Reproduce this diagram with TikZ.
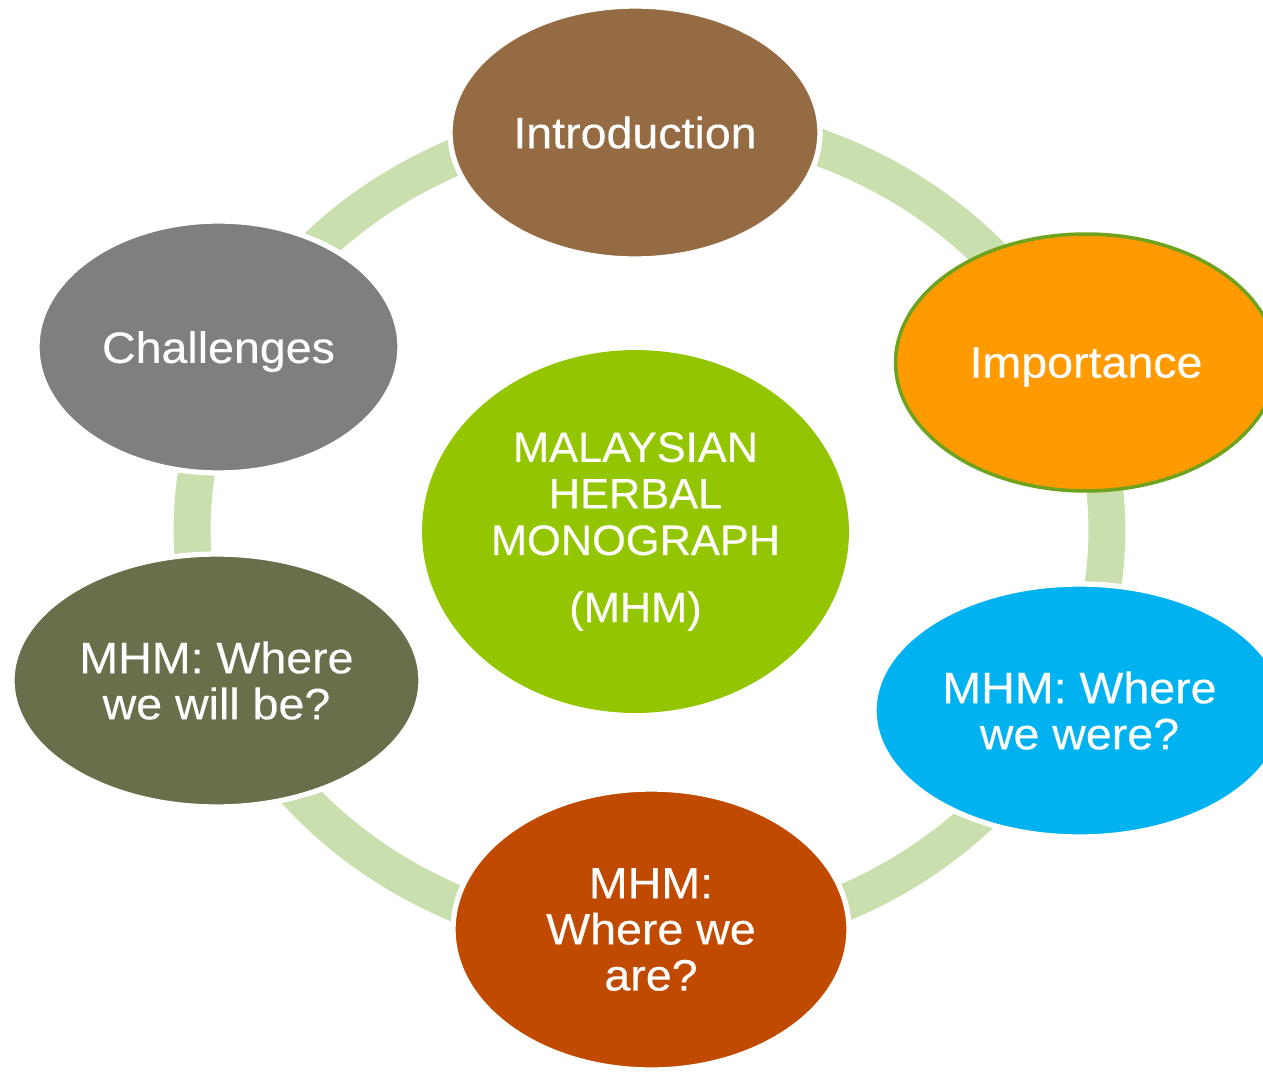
\documentclass[tikz,border=0pt]{standalone}
\usepackage{fontspec}
\setmainfont{Liberation Sans}
\newfontfamily\outerfont[FakeStretch=1.06,FakeBold=0.3]{Liberation Sans}
\newfontfamily\centerfont[FakeStretch=1.02,FakeBold=0.3]{Liberation Sans}
\usetikzlibrary{shapes.geometric}
\definecolor{ringgreen}{HTML}{C9DFAE}
\definecolor{cbrown}{HTML}{956B43}
\definecolor{corange}{HTML}{FF9A00}
\definecolor{cborder}{HTML}{6FA31E}
\definecolor{cgrey}{HTML}{7F7F7F}
\definecolor{ccenter}{HTML}{93C600}
\definecolor{cblue}{HTML}{00B2F0}
\definecolor{colive}{HTML}{6B6E4B}
\definecolor{crust}{HTML}{C04B00}
\tikzset{
  blob/.style={ellipse, inner sep=0pt, outer sep=0pt, draw=white, line width=3pt,
    text=white, align=center, font=\outerfont\fontsize{25}{26.2}\selectfont},
  ringline/.style={draw=ringgreen, line width=21pt}
}
\begin{document}
\begin{tikzpicture}[x=0.02cm, y=-0.02cm]
\clip (0,0) rectangle (1263,1071);
\fill[white] (0,0) rectangle (1263,1071);
\coordinate (ringc) at (649.5,530);
\draw[ringline] (ringc) ellipse [x radius=9.15cm, y radius=8.24cm];
\node[blob, fill=cbrown, minimum width=7.40cm, minimum height=5.06cm] (intro) at (635,132.5) {Introduction};
\node[blob, fill=corange, draw=cborder, line width=2pt, text depth=0pt, minimum width=7.62cm, minimum height=5.14cm] (imp) at (1086,362.5) {Importance};
\node[blob, fill=cgrey, text depth=0pt, minimum width=7.26cm, minimum height=5.04cm] (chal) at (218.5,347) {Challenges};
\node[blob, fill=cblue, minimum width=8.22cm, minimum height=5.06cm] (were) at (1079.5,710.5) {MHM: Where\\we were?};
\node[blob, fill=colive, minimum width=8.18cm, minimum height=5.06cm] (willbe) at (216.5,680.5) {MHM: Where\\we will be?};
\node[blob, fill=crust, minimum width=7.92cm, minimum height=5.62cm] (are) at (651,929.5) {MHM:\\Where we\\are?};
\node[blob, fill=ccenter, draw=none, minimum width=8.54cm, minimum height=7.26cm, font=\centerfont\fontsize{24.2}{26.5}\selectfont] (mhm) at (635.5,531.5) {MALAYSIAN\\HERBAL\\MONOGRAPH\\[11.7pt](MHM)};
\end{tikzpicture}
\end{document}
